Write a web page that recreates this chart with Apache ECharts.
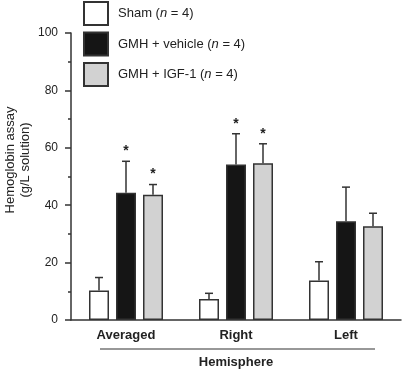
<!DOCTYPE html>
<html>
<head>
<meta charset="utf-8">
<script src="https://cdn.jsdelivr.net/npm/echarts@6/dist/echarts.min.js"></script>
<style>html,body{margin:0;padding:0;background:#fff}#c{width:402px;height:372px}</style>
</head>
<body>
<div id="c"></div>
<script>
const categories = ['Averaged', 'Right', 'Left'];
const seriesNames = ['Sham (n = 4)', 'GMH + vehicle (n = 4)', 'GMH + IGF-1 (n = 4)'];
const shamMean = [10.3, 7.3, 13.8];
const shamSD = [4.5, 2.0, 6.5];
const vehicleMean = [44.3, 54.2, 34.4];
const vehicleSD = [11.0, 10.7, 11.9];
const igfMean = [43.6, 54.6, 32.7];
const igfSD = [3.6, 6.8, 4.5];
const shamSig = [0, 0, 0];
const vehicleSig = [1, 1, 0];
const igfSig = [1, 1, 0];
const yTicks = [0, 20, 40, 60, 80, 100];
const yTitle = 'Hemoglobin assay\n(g/L solution)';
const xTitle = 'Hemisphere';

const means = [shamMean, vehicleMean, igfMean];
const sds = [shamSD, vehicleSD, igfSD];
const sigs = [shamSig, vehicleSig, igfSig];
const fills = ['#ffffff', '#151515', '#d2d2d2'];
const FONT = 'Liberation Sans, Arial, sans-serif';
const BAR_W = 20, STEP = 27;

const chart = echarts.init(document.getElementById('c'));

const series = [];
seriesNames.forEach((name, i) => {
  series.push({
    name: name,
    type: 'bar',
    data: means[i],
    barWidth: BAR_W,
    barGap: '35%',
    itemStyle: { color: fills[i], borderColor: '#333', borderWidth: 1.5 },
    z: 2
  });
});
seriesNames.forEach((name, i) => {
  series.push({
    type: 'custom',
    name: name + ' err',
    z: 3,
    data: categories.map((c, k) => [k, means[i][k], sds[i][k], sigs[i][k]]),
    encode: { x: 0, y: 1 },
    renderItem: function (params, api) {
      const k = api.value(0);
      const m = api.value(1);
      const sd = api.value(2);
      const sig = api.value(3);
      const base = api.coord([k, m]);
      const top = api.coord([k, m + sd]);
      const x = base[0] + (i - 1) * STEP;
      const children = [
        { type: 'line', shape: { x1: x, y1: base[1], x2: x, y2: top[1] }, style: { stroke: '#333', lineWidth: 1.5 } },
        { type: 'line', shape: { x1: x - 4, y1: top[1], x2: x + 4, y2: top[1] }, style: { stroke: '#333', lineWidth: 1.5 } }
      ];
      if (sig) {
        children.push({
          type: 'text',
          style: { text: '*', x: x, y: top[1] - 3, textAlign: 'center', textVerticalAlign: 'bottom',
                   font: 'bold 14px ' + FONT, fill: '#222' }
        });
      }
      return { type: 'group', children: children };
    }
  });
});

chart.setOption({
  animation: false,
  grid: { left: 71, right: 1, top: 33, bottom: 52, containLabel: false, outerBoundsMode: 'none' },
  legend: {
    data: seriesNames,
    orient: 'vertical',
    left: 83,
    top: 1,
    padding: 0,
    icon: 'rect',
    itemWidth: 24,
    itemHeight: 23,
    itemGap: 5.5,
    formatter: function (name) { return name.replace('(n', '({i|n}'); },
    textStyle: {
      fontFamily: FONT, fontSize: 13, color: '#222', padding: [0, 0, 0, 5],
      rich: { i: { fontStyle: 'italic', fontFamily: FONT, fontSize: 13, color: '#222' } }
    }
  },
  xAxis: {
    type: 'category',
    data: categories,
    name: xTitle,
    nameLocation: 'middle',
    nameGap: 36,
    nameTextStyle: { fontFamily: FONT, fontSize: 13, fontWeight: 'bold', color: '#222' },
    axisLine: { lineStyle: { color: '#333', width: 1.5 } },
    axisTick: { length: 7, lineStyle: { color: '#333', width: 1.5 } },
    axisLabel: { fontFamily: FONT, fontSize: 13, fontWeight: 'bold', color: '#222', margin: 9 }
  },
  yAxis: {
    type: 'value',
    min: yTicks[0],
    max: yTicks[yTicks.length - 1],
    interval: yTicks[1] - yTicks[0],
    splitLine: { show: false },
    axisLine: { show: true, lineStyle: { color: '#333', width: 1.5 } },
    axisTick: { show: true, length: 6, lineStyle: { color: '#333', width: 1.5 } },
    minorTick: { show: true, splitNumber: 2, length: 3, lineStyle: { color: '#333', width: 1.5 } },
    axisLabel: { fontFamily: FONT, fontSize: 12, color: '#222', margin: 13 }
  },
  graphic: [
    {
      type: 'text', x: 18, y: 160, rotation: Math.PI / 2,
      style: { text: yTitle, textAlign: 'center', textVerticalAlign: 'middle', font: '13px ' + FONT,
               fill: '#222', lineHeight: 15 }
    },
    {
      type: 'line', shape: { x1: 100, y1: 349, x2: 375, y2: 349 },
      style: { stroke: '#333', lineWidth: 1.2 }
    }
  ],
  series: series
});
</script>
</body>
</html>
